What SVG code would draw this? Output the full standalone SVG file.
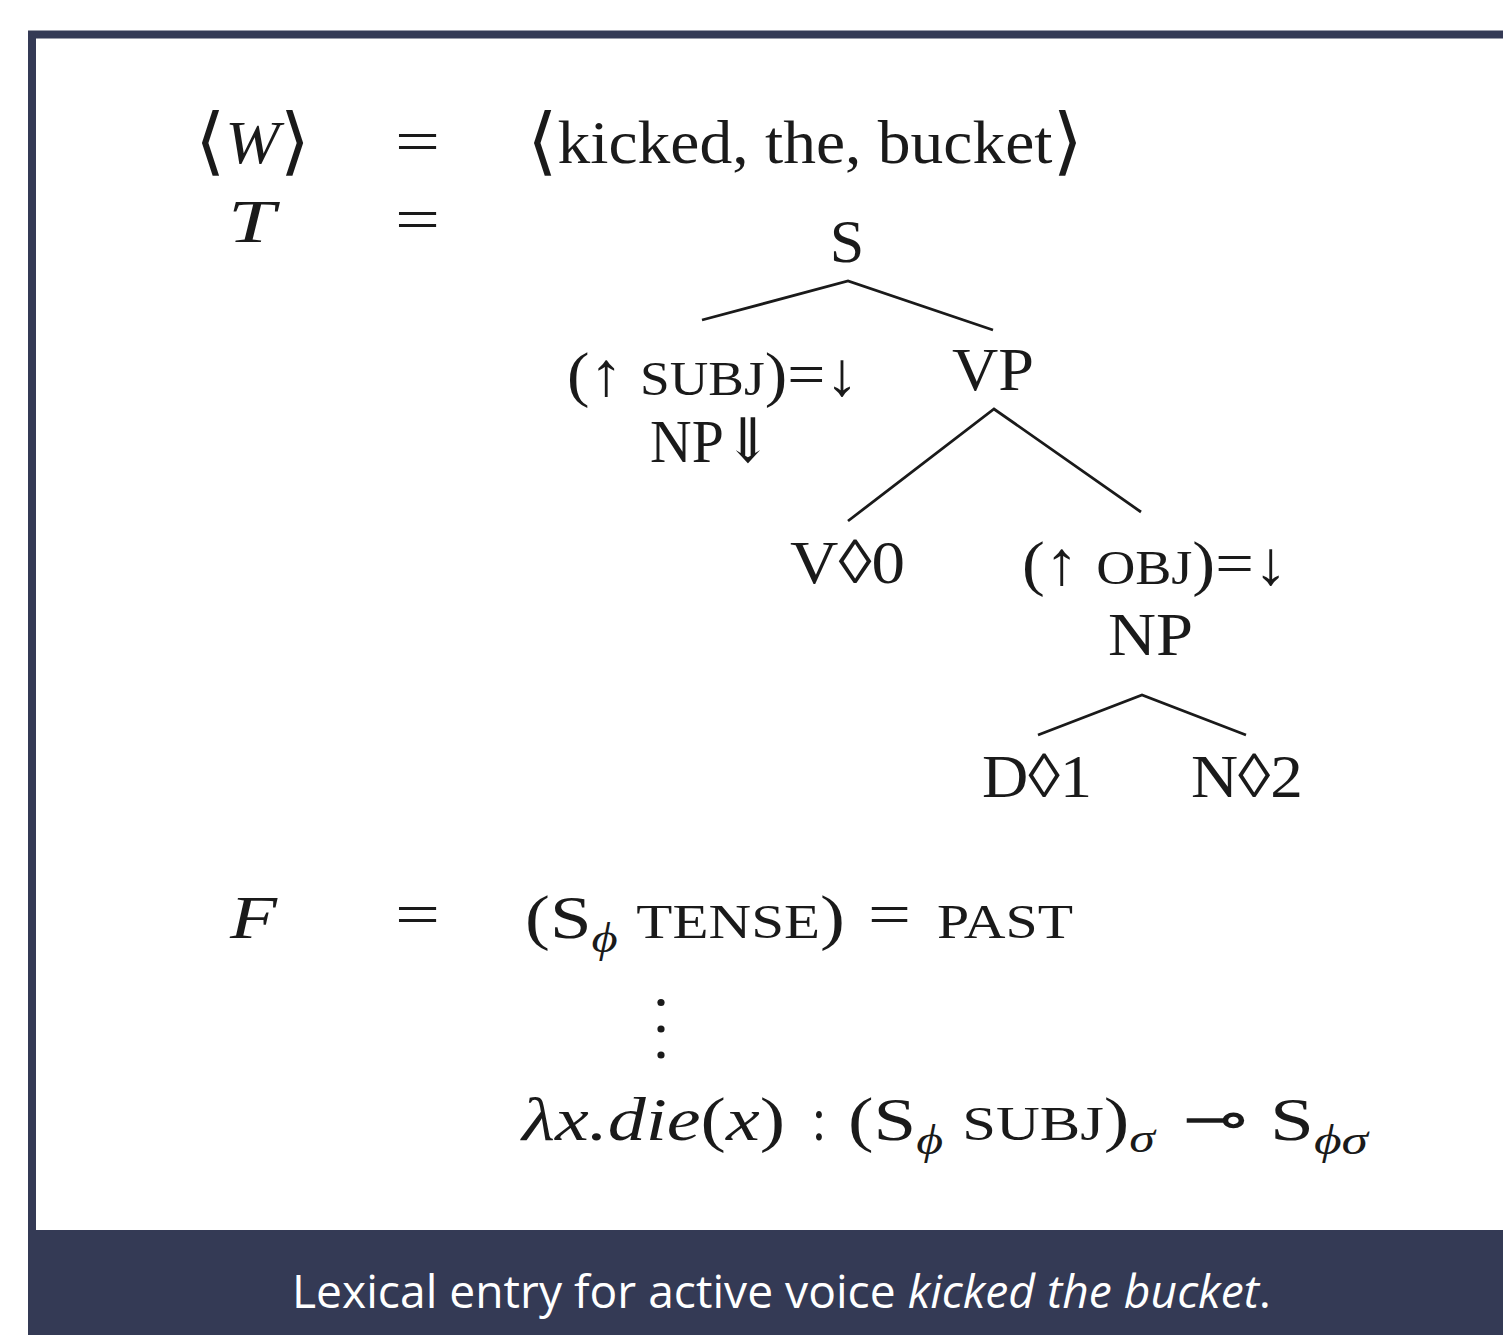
<svg xmlns="http://www.w3.org/2000/svg" width="1503" height="1335" viewBox="0 0 1503 1335">
<style>
.m{font-family:"Liberation Serif","DejaVu Serif",serif;font-size:62px;fill:#1a1a1a}
.i{font-style:italic}
.sc{font-size:49px}
.sub{font-size:42px;font-style:italic}
.br{font-size:74px}
.eq{font-family:"DejaVu Serif","Liberation Serif",serif;font-size:56px;fill:#1a1a1a}
.cap{font-family:"Open Sans","Noto Sans",sans-serif;font-size:46px;fill:#ffffff}
.edge{stroke:#1a1a1a;stroke-width:2.8;fill:none;stroke-linecap:butt}
</style>
<rect x="0" y="0" width="1503" height="1335" fill="#ffffff"/>
<g id="frame">
<rect x="32" y="34.5" width="1480" height="1300" fill="none" stroke="#343a55" stroke-width="8"/>
<rect x="28" y="1230" width="1475" height="105" fill="#343a55"/>
<text class="cap" x="292" y="1308" textLength="979" lengthAdjust="spacingAndGlyphs">Lexical entry for active voice <tspan font-style="italic">kicked the bucket</tspan>.</text>
</g>
<g id="equations">
<text class="m" x="195" y="166" textLength="115" lengthAdjust="spacingAndGlyphs"><tspan class="br">⟨</tspan><tspan class="i" dy="-3">W</tspan><tspan class="br" dy="3">⟩</tspan></text>
<text class="m" x="395" y="162" textLength="45" lengthAdjust="spacingAndGlyphs">=</text>
<text class="m" x="527" y="166" textLength="556" lengthAdjust="spacingAndGlyphs"><tspan class="br">⟨</tspan><tspan dy="-3">kicked, the, bucket</tspan><tspan class="br" dy="3">⟩</tspan></text>
<text class="m i" x="228" y="242" textLength="47" lengthAdjust="spacingAndGlyphs">T</text>
<text class="m" x="395" y="240" textLength="45" lengthAdjust="spacingAndGlyphs">=</text>
<text class="m i" x="230" y="938" textLength="47" lengthAdjust="spacingAndGlyphs">F</text>
<text class="m" x="395" y="935" textLength="45" lengthAdjust="spacingAndGlyphs">=</text>
<text class="m" x="525" y="938" textLength="320" lengthAdjust="spacingAndGlyphs">(S<tspan class="sub" dy="14">ϕ</tspan><tspan dy="-14"> </tspan><tspan class="sc">TENSE</tspan>)</text>
<text class="m" x="868" y="935" textLength="43" lengthAdjust="spacingAndGlyphs">=</text>
<text class="m sc" x="937" y="938" textLength="136" lengthAdjust="spacingAndGlyphs">PAST</text>
<circle cx="661" cy="1002.5" r="3.6" fill="#1a1a1a"/>
<circle cx="661" cy="1029" r="3.6" fill="#1a1a1a"/>
<circle cx="661" cy="1055" r="3.6" fill="#1a1a1a"/>
<text class="m" x="522" y="1140" textLength="263" lengthAdjust="spacingAndGlyphs"><tspan class="i">λx.die</tspan>(<tspan class="i">x</tspan>)</text>
<text class="m" x="812" y="1140" textLength="14" lengthAdjust="spacingAndGlyphs">:</text>
<text class="m" x="848" y="1140" textLength="307" lengthAdjust="spacingAndGlyphs">(S<tspan class="sub" dy="14">ϕ</tspan><tspan dy="-14"> </tspan><tspan class="sc">SUBJ</tspan>)<tspan class="sub" dy="12">σ</tspan></text>
<text class="eq" x="1183" y="1138" textLength="65" lengthAdjust="spacingAndGlyphs">⊸</text>
<text class="m" x="1270" y="1140" textLength="98" lengthAdjust="spacingAndGlyphs">S<tspan class="sub" dy="14">ϕσ</tspan></text>
</g>
<g id="connectors">
<polyline class="edge" points="702,320 848,281 993,330"/>
<polyline class="edge" points="848,521 994,409 1141,512"/>
<polyline class="edge" points="1038,735 1142,695 1246,735"/>
</g>
<g id="node-S"><text class="m" x="847" y="262" text-anchor="middle">S</text></g>
<g id="node-subj"><text class="m" x="567" y="395" textLength="292" lengthAdjust="spacingAndGlyphs">(↑ <tspan class="sc">SUBJ</tspan>)=↓</text>
<text class="m" x="650" y="462" textLength="122" lengthAdjust="spacingAndGlyphs">NP⇓</text></g>
<g id="node-VP"><text class="m" x="952" y="390" textLength="82" lengthAdjust="spacingAndGlyphs">VP</text></g>
<g id="node-V0"><text class="m" x="790" y="583" textLength="115" lengthAdjust="spacingAndGlyphs">V◊0</text></g>
<g id="node-obj"><text class="m" x="1022" y="584" textLength="266" lengthAdjust="spacingAndGlyphs">(↑ <tspan class="sc">OBJ</tspan>)=↓</text>
<text class="m" x="1108" y="655" textLength="85" lengthAdjust="spacingAndGlyphs">NP</text></g>
<g id="node-D1"><text class="m" x="982" y="797" textLength="110" lengthAdjust="spacingAndGlyphs">D◊1</text></g>
<g id="node-N2"><text class="m" x="1191" y="797" textLength="112" lengthAdjust="spacingAndGlyphs">N◊2</text></g>
</svg>
